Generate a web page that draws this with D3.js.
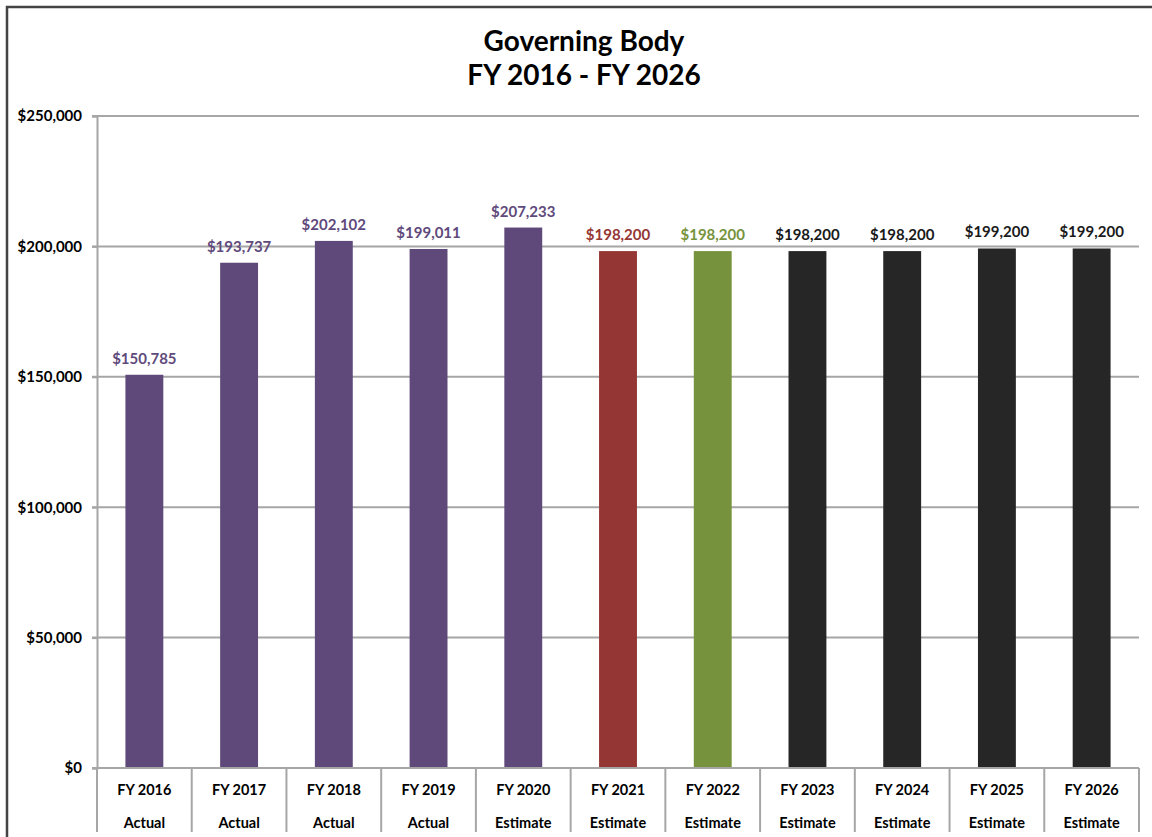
<!DOCTYPE html>
<html><head><meta charset="utf-8">
<script src="https://cdn.jsdelivr.net/npm/d3@7"></script>
<style>body{margin:0;background:#fff}svg{display:block}</style>
</head><body><svg id="c" width="1152" height="837"></svg>
<script>
const years = ["FY 2016","FY 2017","FY 2018","FY 2019","FY 2020","FY 2021","FY 2022","FY 2023","FY 2024","FY 2025","FY 2026"];
const kinds = ["Actual","Actual","Actual","Actual","Estimate","Estimate","Estimate","Estimate","Estimate","Estimate","Estimate"];
const values = [150785,193737,202102,199011,207233,198200,198200,198200,198200,199200,199200];
const barColors = ["#5f497a","#5f497a","#5f497a","#5f497a","#5f497a","#943634","#76923c","#262626","#262626","#262626","#262626"];
const labelColors = ["#604a7b","#604a7b","#604a7b","#604a7b","#604a7b","#953735","#77933c","#1a1a1a","#1a1a1a","#1a1a1a","#1a1a1a"];
const yTicks = [0,50000,100000,150000,200000,250000];
const titleLines = ["Governing Body","FY 2016 - FY 2026"];

const svg = d3.select("#c");
const font = "Lato, 'Open Sans', sans-serif";
const L = 97, R = 1139, T = 116, B = 768;
const x = d3.scaleBand().domain(years).range([L,R]).paddingInner(0.6).paddingOuter(0.3);
const xb = d3.scaleBand().domain(years).range([L,R]);
const y = d3.scaleLinear().domain([0,250000]).range([B,T]);

// outer frame
svg.append("path").attr("d","M7,837 V7 H1152").attr("fill","none").attr("stroke","#444").attr("stroke-width",2.5);

// title
svg.append("g").selectAll("text").data(titleLines).join("text")
  .attr("x",584).attr("y",(d,i)=>51+i*34).attr("text-anchor","middle")
  .attr("font-family",font).attr("font-weight","bold").attr("font-size",28).attr("fill","#000").text(d=>d);

// gridlines
svg.append("g").selectAll("line").data(yTicks).join("line")
  .attr("x1",L-5).attr("x2",R).attr("y1",d=>y(d)).attr("y2",d=>y(d))
  .attr("stroke","#a6a6a6").attr("stroke-width",2);

// y axis
const yAxis = svg.append("g").attr("transform",`translate(${L},0)`)
  .call(d3.axisLeft(y).tickValues(yTicks).tickSize(5).tickPadding(10).tickFormat(d=>"$"+d3.format(",")(d)));
yAxis.select(".domain").attr("stroke","#a6a6a6").attr("stroke-width",2);
yAxis.selectAll(".tick line").attr("stroke","#a6a6a6").attr("stroke-width",2);
yAxis.selectAll("text").attr("font-family",font).attr("font-weight","bold").attr("font-size",15).attr("fill","#000");

// bars
svg.append("g").selectAll("rect").data(values).join("rect")
  .attr("x",(d,i)=>x(years[i])).attr("width",x.bandwidth())
  .attr("y",d=>y(d)).attr("height",d=>B-y(d))
  .attr("fill",(d,i)=>barColors[i]);

// value labels
svg.append("g").selectAll("text").data(values).join("text")
  .attr("x",(d,i)=>x(years[i])+x.bandwidth()/2).attr("y",d=>y(d)-11)
  .attr("text-anchor","middle").attr("font-family",font).attr("font-weight","bold").attr("font-size",15)
  .attr("fill",(d,i)=>labelColors[i]).text(d=>"$"+d3.format(",")(d));

// x axis with category separators
const xAxis = svg.append("g").attr("transform",`translate(0,${B})`);
xAxis.append("line").attr("x1",L).attr("x2",R).attr("y1",0).attr("y2",0).attr("stroke","#a6a6a6").attr("stroke-width",2);
const seps = years.map(d=>xb(d)).concat([R]);
xAxis.selectAll("line.sep").data(seps).join("line").attr("class","sep")
  .attr("x1",d=>d).attr("x2",d=>d).attr("y1",0).attr("y2",64)
  .attr("stroke","#a6a6a6").attr("stroke-width",2);
xAxis.selectAll("text.yr").data(years).join("text").attr("class","yr")
  .attr("x",d=>xb(d)+xb.bandwidth()/2).attr("y",27).attr("text-anchor","middle")
  .attr("font-family",font).attr("font-weight","bold").attr("font-size",14.5).attr("fill","#000").text(d=>d);
xAxis.selectAll("text.kd").data(kinds).join("text").attr("class","kd")
  .attr("x",(d,i)=>xb(years[i])+xb.bandwidth()/2).attr("y",60).attr("text-anchor","middle")
  .attr("font-family",font).attr("font-weight","bold").attr("font-size",14.5).attr("fill","#000").text(d=>d);
</script></body></html>
